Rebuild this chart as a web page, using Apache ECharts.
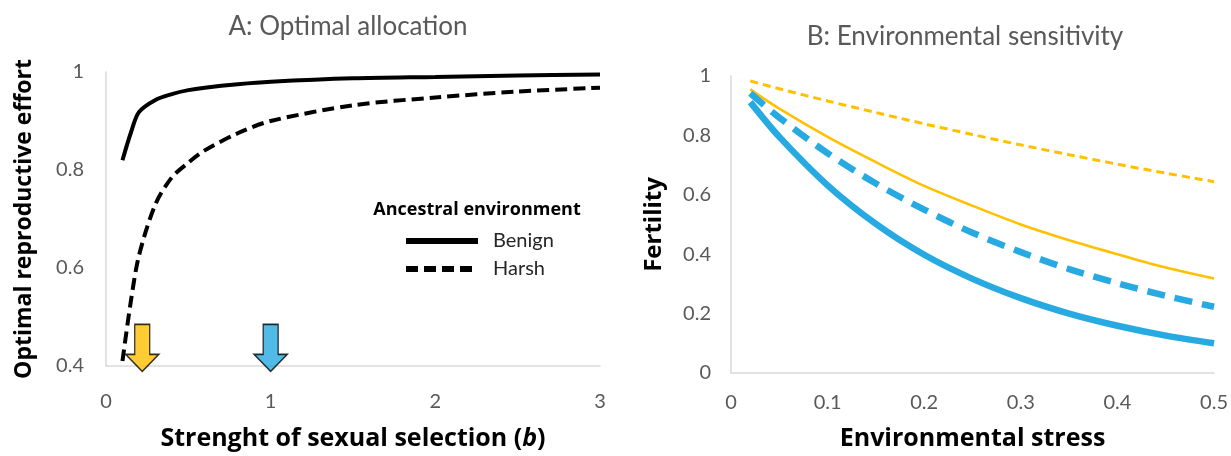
<!DOCTYPE html>
<html>
<head>
<meta charset="utf-8">
<script src="https://cdn.jsdelivr.net/npm/echarts@6/dist/echarts.min.js"></script>
<style>
  html, body { margin: 0; padding: 0; background: #fff; }
  #chart { width: 1231px; height: 456px; }
</style>
</head>
<body>
<div id="chart"></div>
<script>
// panel A: optimal reproductive effort vs strength of sexual selection b
var bValues = [0.1, 0.15, 0.2, 0.3, 0.4, 0.5, 0.6, 0.8, 1, 1.5, 2, 2.5, 3];
var benign  = [0.82, 0.875, 0.918, 0.943, 0.955, 0.963, 0.968, 0.975, 0.98, 0.987, 0.99, 0.993, 0.995];
var harsh   = [0.41, 0.53, 0.625, 0.73, 0.785, 0.815, 0.84, 0.875, 0.9, 0.932, 0.948, 0.96, 0.968];
// arrows marking b values used in panel B
var arrowB = [0.22, 1.0];
var arrowY = 0.437;
var arrowColors = ['#ffc000', '#27a9e1'];

// panel B: fertility vs environmental stress
var stress       = [0.02, 0.05, 0.1, 0.15, 0.2, 0.25, 0.3, 0.35, 0.4, 0.45, 0.5];
var orangeDashed = [0.983, 0.957, 0.916, 0.877, 0.839, 0.803, 0.768, 0.735, 0.703, 0.673, 0.644];
var orangeSolid  = [0.955, 0.89, 0.795, 0.71, 0.63, 0.563, 0.5, 0.447, 0.4, 0.355, 0.318];
var blueDashed   = [0.942, 0.86, 0.74, 0.638, 0.55, 0.472, 0.407, 0.35, 0.302, 0.26, 0.223];
var blueSolid    = [0.912, 0.795, 0.632, 0.502, 0.398, 0.317, 0.252, 0.2, 0.159, 0.126, 0.1];

function pairs(xs, ys) {
    return xs.map(function (x, i) { return [x, ys[i]]; });
}

var FONT = 'Lato';
var BOLD = 'Open Sans';
var GREY = '#595959';
var arrowPath = 'path://M9,0 L24,0 L24,30 L33,30 L16.5,47 L0,30 L9,30 Z';

function baseAxis(extra) {
    var ax = {
        type: 'value',
        axisLine: { show: true, onZero: false, lineStyle: { color: '#d9d9d9', width: 1.5 } },
        axisTick: { show: false },
        splitLine: { show: false },
        axisLabel: { color: GREY, fontFamily: FONT, fontSize: 20 },
        nameLocation: 'middle',
        nameTextStyle: { color: '#000', fontFamily: BOLD, fontWeight: 'bold', fontSize: 25 }
    };
    for (var k in extra) ax[k] = extra[k];
    return ax;
}

var chart = echarts.init(document.getElementById('chart'));

var option = {
    animation: false,
    title: [
        { text: 'A: Optimal allocation', left: 343, top: 9, textAlign: 'center',
          textStyle: { color: GREY, fontFamily: FONT, fontWeight: 'normal', fontSize: 26 } },
        { text: 'B: Environmental sensitivity', left: 960, top: 19, textAlign: 'center',
          textStyle: { color: GREY, fontFamily: FONT, fontWeight: 'normal', fontSize: 26 } },
        { text: 'Ancestral environment', left: 472, top: 196, textAlign: 'center',
          textStyle: { color: '#000', fontFamily: BOLD, fontWeight: 'bold', fontSize: 18 } }
    ],
    legend: {
        data: ['Benign', 'Harsh'],
        orient: 'vertical',
        left: 398,
        top: 226,
        itemWidth: 72,
        itemHeight: 14,
        itemGap: 8,
        selectedMode: false,
        itemStyle: { opacity: 0 },
        lineStyle: { width: 6 },
        textStyle: { color: '#262626', fontFamily: FONT, fontSize: 20, padding: [0, 0, 0, 10] }
    },
    grid: [
        { left: 106, right: 631, top: 72, bottom: 86 },
        { left: 731, right: 15, top: 76, bottom: 81 }
    ],
    xAxis: [
        baseAxis({
            gridIndex: 0, min: 0, max: 3, interval: 1,
            axisLabel: { color: GREY, fontFamily: FONT, fontSize: 20, margin: 26 },
            name: '{n|Strenght of sexual selection (}{i|b}{n|)}',
            nameGap: 60,
            nameTextStyle: {
                rich: {
                    n: { color: '#000', fontFamily: BOLD, fontWeight: 'bold', fontSize: 25 },
                    i: { color: '#000', fontFamily: BOLD, fontWeight: 'bold', fontStyle: 'italic', fontSize: 25 }
                }
            }
        }),
        baseAxis({
            gridIndex: 1, min: 0, max: 0.5, interval: 0.1,
            axisLabel: { color: GREY, fontFamily: FONT, fontSize: 20, margin: 20 },
            name: 'Environmental stress',
            nameGap: 53
        })
    ],
    yAxis: [
        baseAxis({
            gridIndex: 0, min: 0.4, max: 1, interval: 0.2,
            axisLabel: { color: GREY, fontFamily: FONT, fontSize: 20, margin: 22 },
            name: 'Optimal reproductive effort',
            nameGap: 70,
            nameTextStyle: { color: '#000', fontFamily: BOLD, fontWeight: 'bold', fontSize: 23 }
        }),
        baseAxis({
            gridIndex: 1, min: 0, max: 1, interval: 0.2,
            axisLabel: { color: GREY, fontFamily: FONT, fontSize: 20, margin: 20 },
            name: 'Fertility',
            nameGap: 65,
            nameTextStyle: { color: '#000', fontFamily: BOLD, fontWeight: 'bold', fontSize: 24 }
        })
    ],
    series: [
        {
            name: 'Benign', type: 'line', xAxisIndex: 0, yAxisIndex: 0,
            data: pairs(bValues, benign), symbol: 'none', smooth: 0.3,
            lineStyle: { color: '#000', width: 4 }, itemStyle: { color: '#000' }
        },
        {
            name: 'Harsh', type: 'line', xAxisIndex: 0, yAxisIndex: 0,
            data: pairs(bValues, harsh), symbol: 'none', smooth: 0.3,
            lineStyle: { color: '#000', width: 4, type: [12, 6] }, itemStyle: { color: '#000' }
        },
        {
            name: 'arrows', type: 'scatter', xAxisIndex: 0, yAxisIndex: 0, clip: false,
            symbol: arrowPath, symbolSize: [33, 47], silent: true,
            data: arrowB.map(function (b, i) {
                return { value: [b, arrowY], itemStyle: { color: arrowColors[i], borderColor: '#000', borderWidth: 1.5 } };
            })
        },
        {
            name: 'orangeDashed', type: 'line', xAxisIndex: 1, yAxisIndex: 1,
            data: pairs(stress, orangeDashed), symbol: 'none', smooth: 0.3,
            lineStyle: { color: '#ffc000', width: 3, type: [8, 5] }
        },
        {
            name: 'orangeSolid', type: 'line', xAxisIndex: 1, yAxisIndex: 1,
            data: pairs(stress, orangeSolid), symbol: 'none', smooth: 0.3,
            lineStyle: { color: '#ffc000', width: 2.5 }
        },
        {
            name: 'blueDashed', type: 'line', xAxisIndex: 1, yAxisIndex: 1,
            data: pairs(stress, blueDashed), symbol: 'none', smooth: 0.3,
            lineStyle: { color: '#27a9e1', width: 6.5, type: [18, 10] }
        },
        {
            name: 'blueSolid', type: 'line', xAxisIndex: 1, yAxisIndex: 1,
            data: pairs(stress, blueSolid), symbol: 'none', smooth: 0.3,
            lineStyle: { color: '#27a9e1', width: 6.5 }
        }
    ]
};

chart.setOption(option);
</script>
</body>
</html>
